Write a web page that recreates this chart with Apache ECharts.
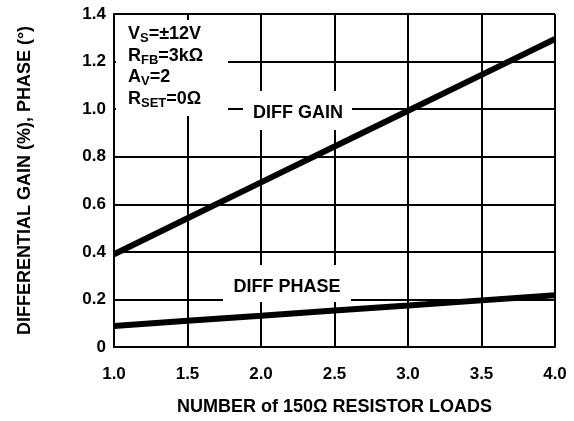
<!DOCTYPE html>
<html><head><meta charset="utf-8">
<script src="https://cdn.jsdelivr.net/npm/echarts@6/dist/echarts.min.js"></script>
<style>html,body{margin:0;padding:0;background:#fff}#c{width:574px;height:421px}</style>
</head><body><div id="c"></div>
<script>
var loads = [1.0, 1.5, 2.0, 2.5, 3.0, 3.5, 4.0];
var diffGain = [0.39, 0.541, 0.692, 0.843, 0.993, 1.144, 1.295];
var diffPhase = [0.088, 0.110, 0.131, 0.153, 0.174, 0.196, 0.218];
var xTicks = ['1.0','1.5','2.0','2.5','3.0','3.5','4.0'];
var yTicks = ['0','0.2','0.4','0.6','0.8','1.0','1.2','1.4'];

var F = '"Liberation Sans", Arial, sans-serif';
var chart = echarts.init(document.getElementById('c'), null, {renderer: 'canvas'});
function pairs(xs, ys){ return xs.map(function(x,i){return [x, ys[i]];}); }
var sub = {fontSize: 13, fontWeight: 'bold', fontFamily: F, color: '#000', padding: [8,0,0,0]};
var main = {fontSize: 18, fontWeight: 'bold', fontFamily: F, color: '#000'};
chart.setOption({
  animation: false,
  backgroundColor: '#fff',
  grid: {left: 114, right: 19, top: 14, bottom: 74},
  xAxis: {
    type: 'value', min: 1, max: 4, interval: 0.5,
    name: 'NUMBER of 150Ω RESISTOR LOADS', nameLocation: 'middle', nameGap: 51,
    nameTextStyle: {fontFamily: F, fontWeight: 'bold', fontSize: 18, color: '#000'},
    axisLine: {lineStyle: {color: '#000', width: 2}},
    axisTick: {show: false},
    axisLabel: {fontFamily: F, fontWeight: 'bold', fontSize: 17, color: '#000', margin: 19,
      formatter: function(v){ return xTicks[Math.round((v-1)/0.5)]; }},
    splitLine: {show: true, lineStyle: {color: '#000', width: 2}}
  },
  yAxis: {
    type: 'value', min: 0, max: 1.4, interval: 0.2,
    name: 'DIFFERENTIAL GAIN (%), PHASE (°)', nameLocation: 'middle', nameGap: 80,
    nameTextStyle: {fontFamily: F, fontWeight: 'bold', fontSize: 18, color: '#000'},
    axisLine: {show: true, lineStyle: {color: '#000', width: 2}},
    axisTick: {show: false},
    axisLabel: {fontFamily: F, fontWeight: 'bold', fontSize: 17, color: '#000', margin: 8,
      formatter: function(v){ return yTicks[Math.round(v/0.2)]; }},
    splitLine: {show: true, lineStyle: {color: '#000', width: 2}}
  },
  series: [
    {type: 'line', data: pairs(loads, diffGain), showSymbol: false, lineStyle: {color: '#000', width: 6}, z: 5},
    {type: 'line', data: pairs(loads, diffPhase), showSymbol: false, lineStyle: {color: '#000', width: 6}, z: 5}
  ],
  graphic: [
    {type: 'rect', z: 100, shape: {x: 116, y: 20, width: 112, height: 96}, style: {fill: '#fff'}},
    {type: 'text', z: 101, left: 128, top: 24, style: {
      text: '{m|V}{s|S}{m|=±12V}\n{m|R}{s|FB}{m|=3kΩ}\n{m|A}{s|V}{m|=2}\n{m|R}{s|SET}{m|=0Ω}',
      rich: {m: Object.assign({lineHeight: 21.5}, main), s: Object.assign({lineHeight: 21.5}, sub)}
    }},
    {type: 'rect', z: 100, shape: {x: 243, y: 91, width: 109, height: 39}, style: {fill: '#fff'}},
    {type: 'text', z: 101, x: 298, y: 113, style: {text: 'DIFF GAIN', fontFamily: F, fontWeight: 'bold', fontSize: 18, fill: '#000', align: 'center', verticalAlign: 'middle'}},
    {type: 'rect', z: 100, shape: {x: 223, y: 265, width: 128, height: 37}, style: {fill: '#fff'}},
    {type: 'text', z: 101, x: 287, y: 287, style: {text: 'DIFF PHASE', fontFamily: F, fontWeight: 'bold', fontSize: 18, fill: '#000', align: 'center', verticalAlign: 'middle'}}
  ]
});
</script></body></html>
